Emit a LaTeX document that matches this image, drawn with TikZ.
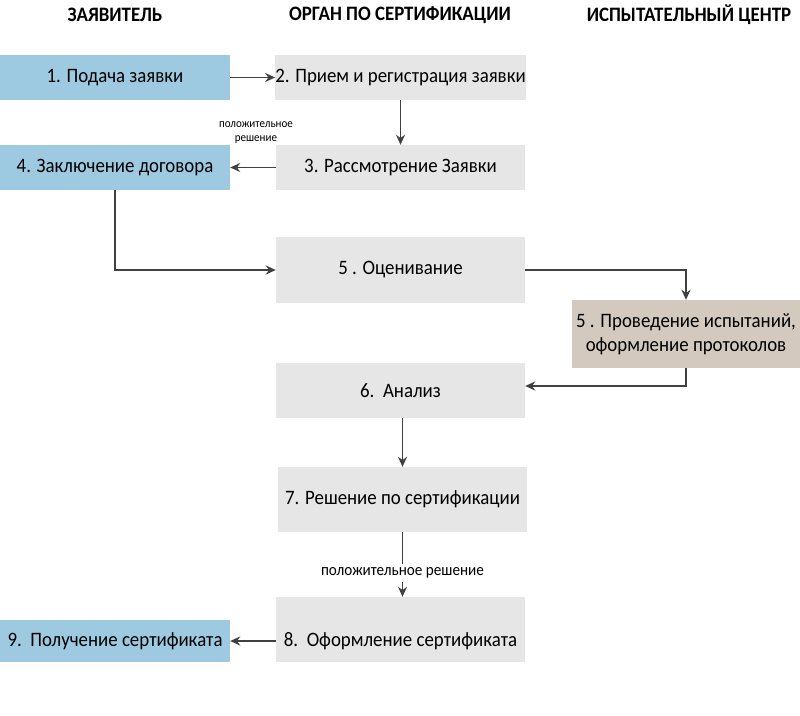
\documentclass[tikz,border=0pt]{standalone}
\usepackage{fontspec}
\setmainfont{Carlito}[FakeStretch=0.92]
\usepackage{tikz}
\usetikzlibrary{arrows.meta}
\definecolor{appblue}{HTML}{9ECAE1}
\definecolor{orggray}{HTML}{E6E6E6}
\definecolor{labtan}{HTML}{D4C9BE}
\definecolor{linegray}{HTML}{404040}

\begin{document}
\begin{tikzpicture}[x=1pt,y=-1pt,>={Stealth[length=10pt,width=9pt]},
  box/.style={rectangle,inner sep=0pt,font=\fontsize{20.5}{24}\selectfont,text=black},
  applicant/.style={box,fill=appblue,minimum width=230pt},
  office/.style={box,fill=orggray,minimum width=249pt},
  lab/.style={box,fill=labtan,align=center,minimum width=228pt},
  head/.style={font=\fontsize{20.5}{23}\selectfont\bfseries},
  small/.style={font=\fontsize{12}{14}\selectfont,align=center},
  flow/.style={->,draw=linegray,line width=1.6pt}]
  \useasboundingbox (0,0) rectangle (800,715);

  % column heads
  \node[head] (hApp) at (115,15) {ЗАЯВИТЕЛЬ};
  \node[head] (hOrg) at (400,15) {ОРГАН ПО СЕРТИФИКАЦИИ};
  \node[head] (hLab) at (689,15) {ИСПЫТАТЕЛЬНЫЙ ЦЕНТР};

  \node[applicant,minimum height=45pt] (s1) at (115,77.5) {1. Подача заявки};
  \node[office,minimum height=45pt] (s2) at (400.5,77.5) {2. Прием и регистрация заявки};
  \node[office,minimum height=45pt] (s3) at (400.5,167.5) {3. Рассмотрение Заявки};
  \node[applicant,minimum height=45pt] (s4) at (115,167.5) {4. Заключение договора};
  \node[office,minimum height=66pt] (s5) at (400.5,270) {5 . Оценивание};
  \node[lab,minimum height=68pt] (t5) at (686,334) {5 . Проведение испытаний,\\оформление протоколов};
  \node[office,minimum height=55pt] (s6) at (400.5,390.5) {6.\ \ Анализ};
  \node[office,minimum height=65pt] (s7) at (402.5,499.5) {7. Решение по сертификации};
  \node[office,text height=49pt,text depth=16pt] (s8) at (400.5,629.5) {8.\ \ Оформление сертификата};
  \node[applicant,minimum height=42pt] (s9) at (115,641) {9.\ \ Получение сертификата};

  \path[flow] (s1) edge (s2)
        (s2) edge (s3)
        (s3) edge node[small,above=20pt,xshift=3pt] {положительное\\решение} (s4);
  \draw[flow] (s4.south) |- (s5.west);
  \draw[flow] (s5.east) -| (t5.north);
  \draw[flow] (t5.south) |- ([yshift=4.5pt]s6.east);
  \draw[flow] (s6.south -| s7.north) -- (s7.north);
  \draw[flow] (s7.south) -- node[small,fill=white,font=\fontsize{16.5}{18}\selectfont,pos=0.63] {положительное решение} (s7.south |- s8.north);
  \draw[flow] (s8.west |- s9.east) -- (s9.east);
\end{tikzpicture}
\end{document}
